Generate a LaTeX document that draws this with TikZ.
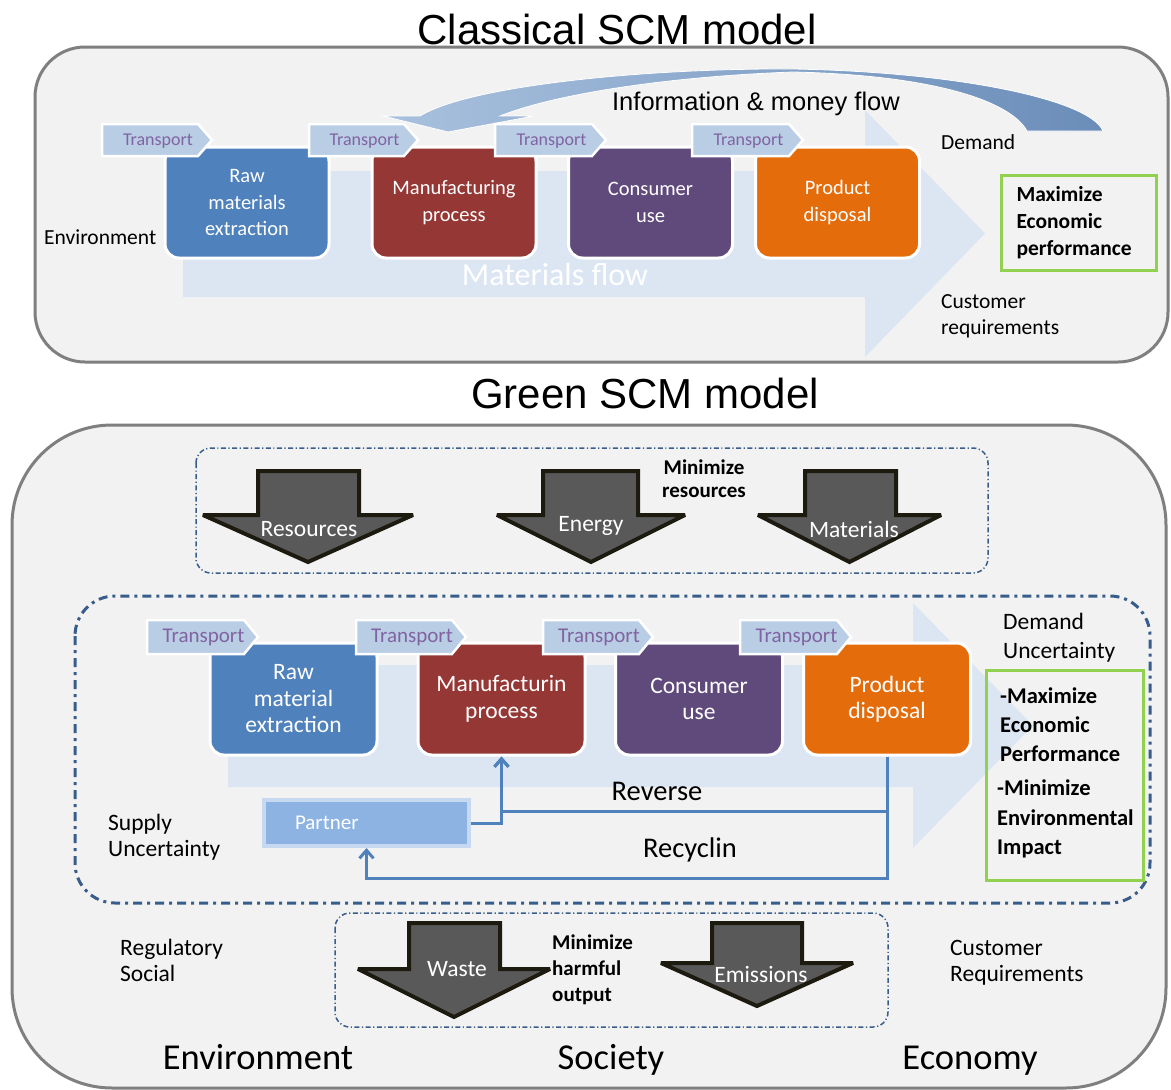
\documentclass[tikz,border=0pt]{standalone}
\usepackage{fontspec}
\setmainfont{Carlito}
\newfontfamily\arialf{Liberation Sans}
\usetikzlibrary{arrows.meta}
\definecolor{panelfill}{HTML}{F2F2F2}
\definecolor{panelline}{HTML}{7F7F7F}
\definecolor{flowfill}{HTML}{DCE6F2}
\definecolor{chevfill}{HTML}{B9CDE5}
\definecolor{chevtext}{HTML}{8064A2}
\definecolor{rawc}{HTML}{4F81BD}
\definecolor{manc}{HTML}{953735}
\definecolor{conc}{HTML}{604A7B}
\definecolor{disc}{HTML}{E46C0A}
\definecolor{goalc}{HTML}{92D050}
\definecolor{dashc}{HTML}{385D8A}
\definecolor{blkfill}{HTML}{595959}
\definecolor{blkline}{HTML}{1D1B10}
\definecolor{linec}{HTML}{4F81BD}
\definecolor{partin}{HTML}{8DB3E2}
\definecolor{partout}{HTML}{C6D9F1}
\definecolor{infoL}{HTML}{A9C1DE}
\definecolor{infoR}{HTML}{6A8DB9}
\tikzset{
 panel/.style={draw=panelline, fill=panelfill, line width=3pt},
 topbox/.style={draw=white, line width=3pt, rounded corners=14pt, text=white, align=center, inner sep=0pt, minimum width=164pt, minimum height=111pt, font=\fontsize{20.5}{26.5}\selectfont},
 grbox/.style={draw=white, line width=3pt, rounded corners=14pt, text=white, align=center, inner sep=0pt, minimum width=167pt, minimum height=112pt, font=\fontsize{23.5}{26.5}\selectfont},
 trA/.style={text=chevtext, font=\fontsize{18}{20}\selectfont, anchor=base, inner sep=0pt},
 trB/.style={text=chevtext, font=\fontsize{21}{23}\selectfont, anchor=base, inner sep=0pt},
 blk/.style={fill=blkfill, draw=blkline, line width=4pt, line join=miter, miter limit=1.6},
 blklab/.style={text=white, font=\fontsize{23.5}{26}\selectfont, anchor=base, inner sep=0pt},
 txt/.style={font=\fontsize{21.5}{24}\selectfont, anchor=base west, inner sep=0pt},
 txtB/.style={font=\fontsize{23.5}{26}\selectfont, anchor=base west, inner sep=0pt},
 bold/.style={font=\fontsize{21}{24}\bfseries\selectfont, anchor=base west, inner sep=0pt},
 gtxt/.style={font=\fontsize{22.5}{25}\bfseries\selectfont, anchor=base west, inner sep=0pt},
 goal/.style={draw=goalc, line width=3pt, inner sep=0pt},
 dashthin/.style={draw=dashc, line width=1.5pt, dash pattern=on 5pt off 2.5pt on 1.2pt off 2.5pt, rounded corners=15pt},
 dashthick/.style={draw=dashc, line width=3pt, dash pattern=on 9pt off 5pt on 3pt off 5pt, rounded corners=40pt},
 conn/.style={draw=linec, line width=3pt, -{Straight Barb[length=8pt,width=14pt,line width=3pt]}},
}
\newcommand\mychev[6]{%
 \path[draw=white, line width=2.5pt, fill=chevfill, line join=miter] (#1,#3) -- ({#2-14},#3) -- (#2,{(#3+#4)/2}) -- ({#2-14},#4) -- (#1,#4) -- cycle;
 \node[#6] (#5) at ({(#1+#2)/2+1},{(#3+#4)/2+5}) {Transport};}
\newcommand\myblk[7]{%
 \path[blk] (#1,#5) -- (#2,#5) -- (#2,#6) -- (#4,#6) -- ({(#3+#4)/2},#7) -- (#3,#6) -- (#1,#6) -- cycle;}
\begin{document}
\begin{tikzpicture}[x=1pt,y=-1pt]
\useasboundingbox (0,0) rectangle (1171,1090);
\fill[white] (0,0) rectangle (1171,1090);

% ================= Classical SCM =================
\node[font=\arialf\fontsize{42}{46}\selectfont, anchor=base, inner sep=0pt] (title1) at (617,44) {Classical SCM model};
\path[panel, rounded corners=50pt] (35,47) rectangle (1168,362);

% materials flow arrow
\fill[flowfill] (183,171) -- (865,171) -- (865,110) -- (985,233.5) -- (865,357) -- (865,297) -- (183,297) -- cycle;
\node[text=white, font=\fontsize{32}{34}\selectfont, anchor=base, inner sep=0pt] (mflow1) at (555,285) {Materials flow};

% information & money flow arrow
\shade[left color=infoL, right color=infoR, draw=white, line width=0.8pt]
 (383,116) -- (420,116) .. controls (470,85) and (650,68) .. (793,69)
 .. controls (960,72) and (1090,100) .. (1103,131) -- (1027,131)
 .. controls (1010,100) and (930,75) .. (793,72)
 .. controls (680,76) and (560,92) .. (500,116) -- (534,116) -- (448,132) -- cycle;
\node[font=\arialf\fontsize{25.5}{28}\selectfont, anchor=base, inner sep=0pt] (info) at (756,110) {Information \& money flow};

% boxes
\node[topbox, fill=rawc] (raw1) at (247,202.5) {Raw\\materials\\extraction};
\node[topbox, fill=manc] (man1) at (454,202.5) {Manufacturing\\process};
\node[topbox, fill=conc] (con1) at (650.5,202.5) {Consumer\\use};
\node[topbox, fill=disc] (dis1) at (837.5,202.5) {Product\\disposal};
\mychev{102}{212}{124}{156}{tA1}{trA}
\mychev{309}{418}{124}{156}{tA2}{trA}
\mychev{495}{606}{124}{156}{tA3}{trA}
\mychev{692}{803}{124}{156}{tA4}{trA}

\node[txt] (env1) at (44,244) {Environment};
\node[txt] (dem1) at (941,149) {Demand};
\node[txt] (cus1a) at (941,308) {Customer};
\node[txt] (cus1b) at (941,334) {requirements};
\node[goal, minimum width=155pt, minimum height=95pt, text width=124pt, inner xsep=15.5pt, align=left, font=\fontsize{21.5}{27}\bfseries\selectfont] (goal1) at (1078.5,222.5) {Maximize\\Economic\\performance};

% ================= Green SCM =================
\node[font=\arialf\fontsize{42}{46}\selectfont, anchor=base, inner sep=0pt] (title2) at (645,408) {Green SCM model};
\path[panel, rounded corners=100pt] (12,425) rectangle (1166,1088);

% input box
\draw[dashthin] (196,448) rectangle (988,573);
\myblk{258}{359}{203}{413}{471}{515}{562}
\myblk{543}{638}{497}{685}{471}{515}{562}
\myblk{805}{896}{758}{941}{471}{515}{562}
\node[blklab] (lres) at (309,536.5) {Resources};
\node[blklab] (lene) at (591,531) {Energy};
\node[blklab] (lmat) at (854,537) {Materials};
\node[bold, anchor=base] (minr1) at (704,474) {Minimize};
\node[bold, anchor=base] (minr2) at (704,497) {resources};

% middle box
\draw[dashthick] (75,596) rectangle (1150,903);
\fill[flowfill] (228,665) -- (913,665) -- (913,603) -- (1033,725.5) -- (913,848) -- (913,787) -- (228,787) -- cycle;

\node[grbox, fill=rawc] (raw2) at (293.5,699) {Raw\\material\\extraction};
\node[grbox, fill=manc] (man2) at (501.5,699) {Manufacturin\\process};
\node[grbox, fill=conc] (con2) at (699,699) {Consumer\\use};
\node[grbox, fill=disc] (dis2) at (887,699) {Product\\disposal};
\mychev{147}{258}{620}{654}{tB1}{trB}
\mychev{356}{466}{620}{654}{tB2}{trB}
\mychev{543}{653}{620}{654}{tB3}{trB}
\mychev{740}{851}{620}{654}{tB4}{trB}

\node[fill=partin, draw=partout, line width=4pt, minimum width=205pt, minimum height=46pt, text width=143pt, inner xsep=31pt, align=left, text=white, font=\fontsize{21}{23}\selectfont] (partner) at (366.5,823) {Partner};

\coordinate (rv) at (887,811.5);
\coordinate (rc) at (887,878);
\draw[conn] (dis2.south) -- (rv) -| (man2.south);
\draw[conn] (partner.east) -| (man2.south);
\draw[conn] (dis2.south) -- (rc) -| (partner.south);

\node[font=\fontsize{28.5}{30}\selectfont, anchor=base, inner sep=0pt] (rev) at (657,800) {Reverse};
\node[font=\fontsize{28.5}{30}\selectfont, anchor=base, inner sep=0pt] (rec) at (690,857) {Recyclin};

\node[txtB] (sup1) at (108,830) {Supply};
\node[txtB] (sup2) at (108,856) {Uncertainty};
\node[txtB] (dem2a) at (1003,629) {Demand};
\node[txtB] (dem2b) at (1003,658) {Uncertainty};

\node[goal, minimum width=157pt, minimum height=210pt] (goal2) at (1064.5,775) {};
\node[gtxt] (g1) at (1000,703) {-Maximize};
\node[gtxt] (g2) at (1000,732) {Economic};
\node[gtxt] (g3) at (1000,761) {Performance};
\node[gtxt] (g4) at (997,795) {-Minimize};
\node[gtxt] (g5) at (997,825) {Environmental};
\node[gtxt] (g6) at (997,854) {Impact};

% output box
\draw[dashthin] (335,913) rectangle (888,1027);
\myblk{409}{500}{358}{550}{923}{969}{1017}
\myblk{712}{802}{661}{853}{923}{963}{1006}
\node[blklab] (lwas) at (457,976.5) {Waste};
\node[blklab] (lemi) at (761,982.5) {Emissions};
\node[bold] (mo1) at (552,949) {Minimize};
\node[bold] (mo2) at (552,975) {harmful};
\node[bold] (mo3) at (552,1001) {output};

\node[txtB] (reg1) at (120,955) {Regulatory};
\node[txtB] (reg2) at (120,981) {Social};
\node[txtB] (cr1) at (950,955) {Customer};
\node[txtB] (cr2) at (950,981) {Requirements};

\node[font=\fontsize{36.5}{40}\selectfont, anchor=base, inner sep=0pt] (envB) at (258,1069) {Environment};
\node[font=\fontsize{36.5}{40}\selectfont, anchor=base, inner sep=0pt] (socB) at (611,1069) {Society};
\node[font=\fontsize{36.5}{40}\selectfont, anchor=base, inner sep=0pt] (ecoB) at (970,1069) {Economy};
\end{tikzpicture}
\end{document}
